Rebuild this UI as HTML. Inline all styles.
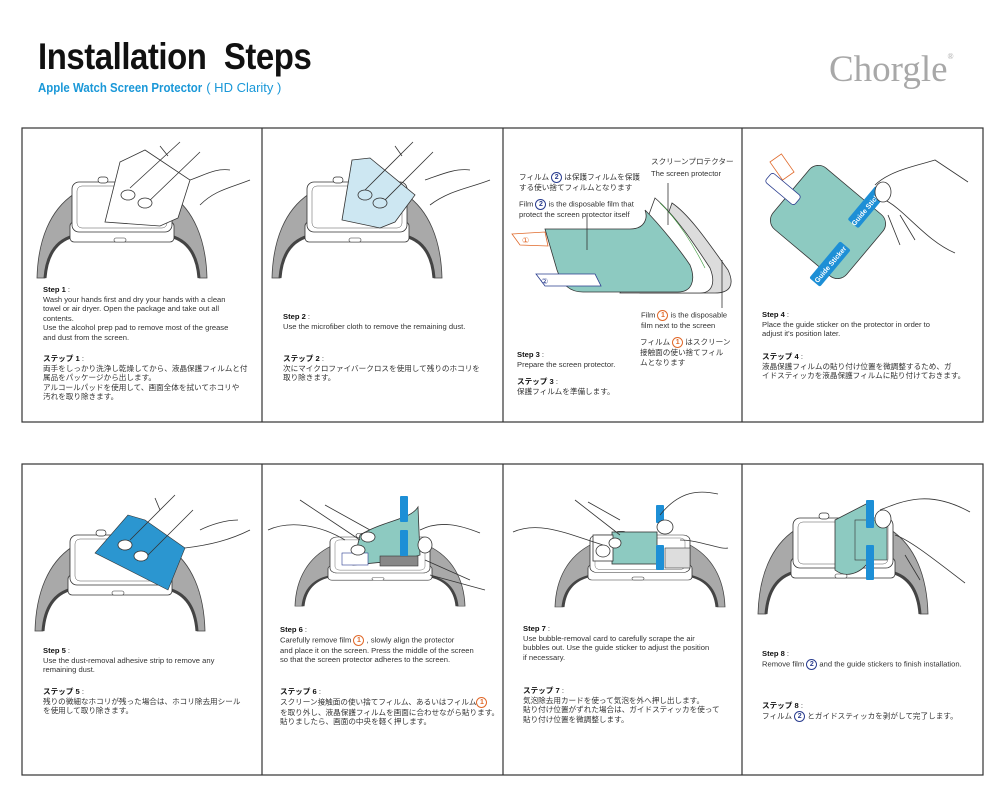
<!DOCTYPE html>
<html><head><meta charset="utf-8">
<style>
html,body{margin:0;padding:0;background:#fff;}
body{width:1000px;height:800px;position:relative;overflow:hidden;font-family:"Liberation Sans","Noto Sans CJK JP",sans-serif;color:#333;}
.t{position:absolute;font-size:7.6px;line-height:9.6px;white-space:nowrap;color:#333;}
.t b{font-weight:bold;color:#111;}
svg{position:absolute;left:0;top:0;}
.c1{display:inline-block;width:9px;height:9px;border:1px solid #e0692a;border-radius:50%;color:#e0692a;font-size:7px;line-height:9px;text-align:center;font-weight:bold;vertical-align:middle;}
.c2{display:inline-block;width:9px;height:9px;border:1px solid #2a3d8f;border-radius:50%;color:#2a3d8f;font-size:7px;line-height:9px;text-align:center;font-weight:bold;vertical-align:middle;}
</style></head><body>
<svg width="1000" height="800" viewBox="0 0 1000 800">
<defs>
<g id="watch">
  <path d="M2,12 C-22,28 -34,58 -35,96 L-27,96 C-25,70 -14,58 2,54 Z" fill="#a9a9a9" stroke="#444" stroke-width="0.8"/>
  <path d="M-27,96 C-25,70 -14,58 2,54" fill="none" stroke="#444" stroke-width="3"/>
  <path d="M98,12 C122,28 134,58 135,96 L127,96 C125,70 114,58 98,54 Z" fill="#a9a9a9" stroke="#444" stroke-width="0.8"/>
  <path d="M127,96 C125,70 114,58 98,54" fill="none" stroke="#444" stroke-width="3"/>
  <rect x="-2" y="40" width="104" height="20" rx="4" fill="#fff" stroke="#333" stroke-width="0.8"/>
  <rect x="0" y="0" width="100" height="50" rx="7" fill="#fff" stroke="#333" stroke-width="0.8"/>
  <rect x="5" y="4" width="90" height="42" rx="5" fill="#fff" stroke="#555" stroke-width="0.5"/>
  <rect x="26" y="-5" width="10" height="6" rx="3" fill="#fff" stroke="#333" stroke-width="0.7"/>
  <rect x="42" y="56" width="12" height="4" rx="2" fill="#fff" stroke="#333" stroke-width="0.6"/>
</g>
</defs>
<g fill="none" stroke="#333" stroke-width="1.2">
<rect x="22" y="128" width="961" height="294"/>
<line x1="262" y1="128" x2="262" y2="422"/><line x1="503" y1="128" x2="503" y2="422"/><line x1="742" y1="128" x2="742" y2="422"/>
<rect x="22" y="464" width="961" height="311"/>
<line x1="262" y1="464" x2="262" y2="775"/><line x1="503" y1="464" x2="503" y2="775"/><line x1="742" y1="464" x2="742" y2="775"/>
</g>

<!-- panel 1 -->
<use href="#watch" x="72" y="182"/>
<path d="M120,162 L145,150 L190,180 L178,218 L160,226 L105,222 Z" fill="#fff" stroke="#333" stroke-width="0.8"/>
<g fill="none" stroke="#333" stroke-width="0.8">
<path d="M160,146 L168,156 M180,142 L130,188 M200,152 L145,205 M250,180 C230,188 215,190 200,205 M230,170 C215,168 205,175 190,180"/>
<ellipse cx="128" cy="195" rx="7" ry="5" fill="#fff"/><ellipse cx="145" cy="203" rx="7" ry="5" fill="#fff"/>
</g>
<!-- panel 2 -->
<use href="#watch" x="307" y="182"/>
<path d="M352,160 L370,158 L415,195 L395,222 L380,228 L342,220 Z" fill="#cde7f2" stroke="#333" stroke-width="0.8"/>
<g fill="none" stroke="#333" stroke-width="0.8">
<path d="M395,146 L402,156 M413,142 L365,190 M433,152 L380,205 M490,180 C470,188 450,190 430,205 M470,170 C455,168 440,175 425,180"/>
<ellipse cx="365" cy="195" rx="7" ry="5" fill="#cde7f2"/><ellipse cx="380" cy="203" rx="7" ry="5" fill="#cde7f2"/>
</g>
<!-- panel 3 -->
<path d="M672,203 C690,215 710,245 728,270 C735,285 730,293 715,293 L640,293 Z" fill="#dcdcdc" stroke="#333" stroke-width="0.8"/>
<path d="M655,198 C675,215 695,245 710,268 C716,283 712,293 700,293 L620,293 Z" fill="#fff" stroke="#333" stroke-width="0.8"/>
<path d="M660,203 C678,220 694,246 705,268" fill="none" stroke="#3a9a3a" stroke-width="0.6"/>
<path d="M545,229 L630,229 C645,229 648,218 645,210 C660,225 680,250 690,265 C696,280 692,292 678,292 L583,292 C570,292 562,285 557,270 Z" fill="#8dcac1" stroke="#333" stroke-width="0.8"/>
<path d="M512,234 L545,232 L548,246 L520,245 Z" fill="#fff" stroke="#e0692a" stroke-width="0.8"/>
<text x="522" y="243" font-size="8" fill="#e0692a" font-family="Liberation Sans">①</text>
<path d="M536,274 L595,274 L601,286 L545,286 Z" fill="#fff" stroke="#2a3d8f" stroke-width="0.8"/>
<text x="541" y="284" font-size="8" fill="#2a3d8f" font-family="Liberation Sans">②</text>
<g stroke="#333" stroke-width="0.8"><line x1="668" y1="183" x2="668" y2="225"/><line x1="587" y1="215" x2="587" y2="250"/><line x1="722" y1="260" x2="722" y2="308"/></g>
<!-- panel 4 -->
<g transform="translate(828,222) rotate(40)">
<rect x="-48" y="-40" width="96" height="80" rx="12" fill="#8dcac1" stroke="#333" stroke-width="0.8"/>
</g>
<rect x="775" y="156" width="14" height="22" transform="rotate(-35 782 167)" fill="#fff" stroke="#e0692a" stroke-width="0.8"/>
<rect x="764" y="183" width="38" height="12" rx="3" transform="rotate(40 783 189)" fill="#fff" stroke="#2a3d8f" stroke-width="0.8"/>
<g transform="translate(867,207) rotate(-50)"><rect x="-22" y="-7" width="44" height="14" rx="2" fill="#1d8fd6"/><text x="0" y="3" font-size="7" fill="#fff" text-anchor="middle" font-family="Liberation Sans" font-weight="bold">Guide Sticker</text></g>
<g transform="translate(830,264) rotate(-50)"><rect x="-24" y="-7" width="48" height="14" rx="2" fill="#1d8fd6"/><text x="0" y="3" font-size="7" fill="#fff" text-anchor="middle" font-family="Liberation Sans" font-weight="bold">Guide Sticker</text></g>
<g fill="none" stroke="#333" stroke-width="0.8">
<path d="M875,185 C890,170 920,165 935,160 L968,182 M885,200 C905,210 925,240 955,253 M888,215 L900,245 M900,215 L915,240"/>
<ellipse cx="883" cy="192" rx="8" ry="10" fill="#fff"/>
</g>
<!-- panel 5 -->
<use href="#watch" x="70" y="535"/>
<path d="M128,515 L145,520 L185,548 L168,590 L95,553 Z" fill="#2b96d0" stroke="#333" stroke-width="0.6"/>
<g fill="none" stroke="#333" stroke-width="0.8">
<path d="M155,498 L160,510 M175,495 L130,540 M193,510 L145,558 M250,530 C230,540 210,545 185,548 M238,520 C225,520 210,525 200,530"/>
<ellipse cx="125" cy="545" rx="7" ry="5" fill="#fff"/><ellipse cx="141" cy="556" rx="7" ry="5" fill="#fff"/>
</g>
<!-- panel 6 -->
<g transform="translate(330,537) scale(1,0.72)"><use href="#watch"/></g>
<path d="M360,535 C385,520 410,520 418,507 L420,555 L405,560 L353,565 Z" fill="#8dcac1" stroke="#333" stroke-width="0.8"/>
<rect x="380" y="556" width="38" height="10" fill="#888" stroke="#333" stroke-width="0.6"/>
<rect x="342" y="553" width="26" height="12" fill="#fff" stroke="#2a3d8f" stroke-width="0.6"/>
<rect x="400" y="496" width="8" height="26" rx="1" fill="#1d8fd6"/><rect x="400" y="530" width="8" height="26" rx="1" fill="#1d8fd6"/>
<g fill="none" stroke="#333" stroke-width="0.8">
<path d="M268,530 C290,520 320,525 345,540 M300,500 L360,540 M325,505 L370,530 M420,530 C440,520 460,525 480,533 M425,560 L470,580 M430,575 L485,590"/>
<ellipse cx="368" cy="537" rx="7" ry="5" fill="#fff"/><ellipse cx="358" cy="550" rx="7" ry="5" fill="#fff"/>
<ellipse cx="425" cy="545" rx="7" ry="8" fill="#fff"/>
</g>
<!-- panel 7 -->
<g transform="translate(590,535) scale(1,0.75)"><use href="#watch"/></g>
<rect x="612" y="532" width="45" height="32" fill="#8dcac1" stroke="#333" stroke-width="0.8"/>
<rect x="665" y="548" width="25" height="20" fill="#ddd" stroke="#333" stroke-width="0.6"/>
<rect x="593" y="535" width="20" height="26" fill="#fff" stroke="#333" stroke-width="0.8"/>
<rect x="656" y="505" width="8" height="18" rx="1" fill="#1d8fd6"/><rect x="656" y="545" width="8" height="25" rx="1" fill="#1d8fd6"/>
<g fill="none" stroke="#333" stroke-width="0.8">
<path d="M513,532 C540,520 570,535 603,545 M575,500 L620,535 M588,502 L620,520 M660,515 C680,490 700,490 718,494 M680,540 C700,540 720,550 728,548"/>
<ellipse cx="603" cy="551" rx="7" ry="6" fill="#fff"/><ellipse cx="615" cy="543" rx="6" ry="5" fill="#fff"/><ellipse cx="665" cy="527" rx="8" ry="7" fill="#fff"/>
</g>
<!-- panel 8 -->
<use href="#watch" x="793" y="518"/>
<path d="M835,520 L868,503 L870,560 C860,575 845,578 835,570 Z" fill="#8dcac1" stroke="#333" stroke-width="0.8"/>
<rect x="855" y="520" width="32" height="40" fill="#8dcac1" stroke="#333" stroke-width="0.6"/>
<rect x="866" y="500" width="8" height="28" rx="1" fill="#1d8fd6"/><rect x="866" y="545" width="8" height="35" rx="1" fill="#1d8fd6"/>
<g fill="none" stroke="#333" stroke-width="0.8">
<path d="M880,510 C905,500 930,490 970,512 M895,535 C910,540 935,560 965,583 M905,555 L920,580"/>
<ellipse cx="883" cy="519" rx="8" ry="9" fill="#fff"/>
</g>
</svg>

<div style="position:absolute;left:38px;top:36px;font-size:37px;font-weight:bold;color:#111;transform:scaleX(0.89);transform-origin:left top;letter-spacing:-0.5px;">Installation&nbsp; Steps</div>
<div style="position:absolute;left:38px;top:80px;font-size:13px;color:#1a98d8;white-space:nowrap;"><b style="display:inline-block;transform:scaleX(0.88);transform-origin:left;margin-right:-22px;">Apple Watch Screen Protector</b> ( HD Clarity )</div>
<div style="position:absolute;left:829px;top:48px;font-size:37px;color:#a8a8a8;font-family:'Liberation Serif',serif;">Chorgle<sup style="font-size:8px;vertical-align:22px;">®</sup></div>

<div class="t" style="left:43px;top:285px;"><b>Step 1</b> :<br>Wash your hands first and dry your hands with a clean<br>towel or air dryer. Open the package and take out all<br>contents.<br>Use the alcohol prep pad to remove most of the grease<br>and dust from the screen.</div>
<div class="t" style="left:43px;top:354px;"><b>ステップ 1</b> :<br>両手をしっかり洗浄し乾燥してから、液晶保護フィルムと付<br>属品をパッケージから出します。<br>アルコールパッドを使用して、画面全体を拭いてホコリや<br>汚れを取り除きます。</div>

<div class="t" style="left:283px;top:312px;"><b>Step 2</b> :<br>Use the microfiber cloth to remove the remaining dust.</div>
<div class="t" style="left:283px;top:354px;"><b>ステップ 2</b> :<br>次にマイクロファイバークロスを使用して残りのホコリを<br>取り除きます。</div>

<div class="t" style="left:651px;top:157px;">スクリーンプロテクター</div>
<div class="t" style="left:651px;top:169px;">The screen protector</div>
<div class="t" style="left:519px;top:172px;">フィルム <span class="c2">2</span> は保護フィルムを保護<br>する使い捨てフィルムとなります</div>
<div class="t" style="left:519px;top:199px;">Film <span class="c2">2</span> is the disposable film that<br>protect the screen protector itself</div>
<div class="t" style="left:641px;top:310px;">Film <span class="c1">1</span> is the disposable<br>film next to the screen</div>
<div class="t" style="left:640px;top:337px;">フィルム <span class="c1">1</span> はスクリーン<br>接触面の使い捨てフィル<br>ムとなります</div>
<div class="t" style="left:517px;top:350px;"><b>Step 3</b> :<br>Prepare the screen protector.</div>
<div class="t" style="left:517px;top:377px;"><b>ステップ 3</b> :<br>保護フィルムを準備します。</div>

<div class="t" style="left:762px;top:310px;"><b>Step 4</b> :<br>Place the guide sticker on the protector in order to<br>adjust it's position later.</div>
<div class="t" style="left:762px;top:352px;"><b>ステップ 4</b> :<br>液晶保護フィルムの貼り付け位置を微調整するため、ガ<br>イドスティッカを液晶保護フィルムに貼り付けておきます。</div>

<div class="t" style="left:43px;top:646px;"><b>Step 5</b> :<br>Use the dust-removal adhesive strip to remove any<br>remaining dust.</div>
<div class="t" style="left:43px;top:687px;"><b>ステップ 5</b> :<br>残りの微細なホコリが残った場合は、ホコリ除去用シール<br>を使用して取り除きます。</div>

<div class="t" style="left:280px;top:625px;"><b>Step 6</b> :<br>Carefully remove film <span class="c1">1</span> , slowly align the protector<br>and place it on the screen. Press the middle of the screen<br>so that the screen protector adheres to the screen.</div>
<div class="t" style="left:280px;top:687px;"><b>ステップ 6</b> :<br>スクリーン接触面の使い捨てフィルム、あるいはフィルム<span class="c1">1</span><br>を取り外し、液晶保護フィルムを画面に合わせながら貼ります。<br>貼りましたら、画面の中央を軽く押します。</div>

<div class="t" style="left:523px;top:624px;"><b>Step 7</b> :<br>Use bubble-removal card to carefully scrape the air<br>bubbles out. Use the guide sticker to adjust the position<br>if necessary.</div>
<div class="t" style="left:523px;top:686px;"><b>ステップ 7</b> :<br>気泡除去用カードを使って気泡を外へ押し出します。<br>貼り付け位置がずれた場合は、ガイドスティッカを使って<br>貼り付け位置を微調整します。</div>

<div class="t" style="left:762px;top:649px;"><b>Step 8</b> :<br>Remove film <span class="c2">2</span> and the guide stickers to finish installation.</div>
<div class="t" style="left:762px;top:701px;"><b>ステップ 8</b> :<br>フィルム <span class="c2">2</span> とガイドスティッカを剥がして完了します。</div>
</body></html>
